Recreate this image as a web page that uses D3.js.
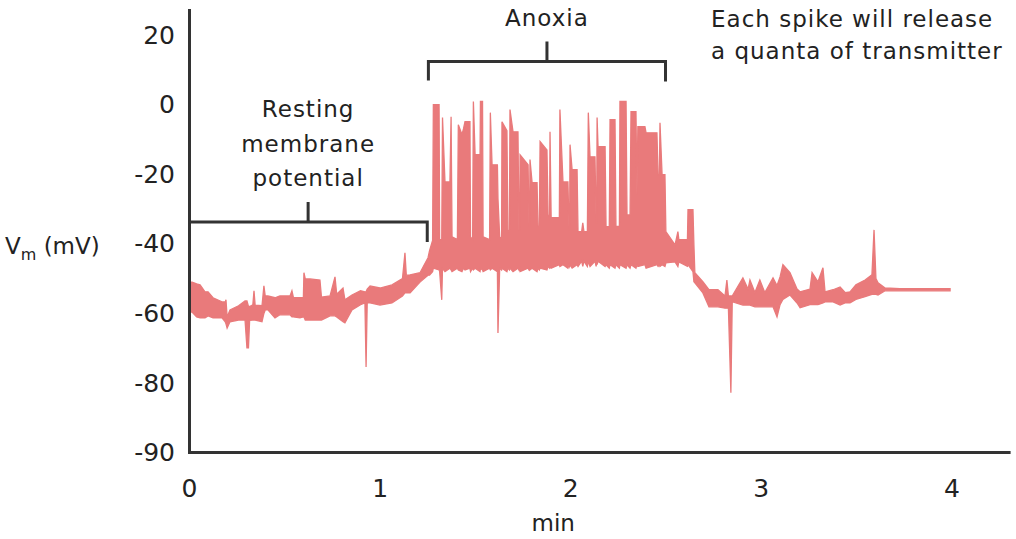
<!DOCTYPE html>
<html>
<head>
<meta charset="utf-8">
<script src="https://cdn.jsdelivr.net/npm/d3@7"></script>
<style>
  body { margin: 0; background: #fff; }
  #chart text { font-family: "DejaVu Sans", sans-serif; fill: #222; }
  #chart .note { letter-spacing: 1px; }
</style>
</head>
<body>
<div id="chart"></div>
<script>
// Membrane potential trace: [min, upper mV, lower mV]
const restTrace = [
  [0.000, -51.0, -59.6], [0.016, -51.0, -59.6], [0.040, -51.5, -61.0], [0.058, -51.8, -61.3],
  [0.084, -53.8, -61.3], [0.100, -53.8, -60.7], [0.126, -55.5, -61.3], [0.173, -56.7, -61.3],
  [0.190, -56.7, -62.4], [0.194, -56.1, -63.0], [0.200, -61.0, -64.2], [0.215, -59.0, -62.4],
  [0.260, -57.8, -61.9], [0.294, -56.4, -61.9], [0.304, -56.4, -69.9], [0.312, -58.0, -69.9],
  [0.318, -58.0, -62.0], [0.335, -57.5, -61.9], [0.341, -53.5, -61.9], [0.347, -57.6, -61.9],
  [0.383, -57.8, -62.4], [0.393, -52.1, -60.0], [0.400, -55.0, -59.0], [0.414, -55.0, -59.0],
  [0.451, -55.5, -61.3], [0.477, -55.0, -60.4], [0.530, -55.0, -60.4], [0.540, -53.5, -61.0],
  [0.548, -55.5, -61.0], [0.582, -55.5, -61.3], [0.600, -55.5, -61.0], [0.603, -48.3, -61.0],
  [0.610, -50.1, -61.9], [0.635, -50.1, -61.9], [0.687, -50.4, -61.9], [0.695, -55.3, -61.9],
  [0.740, -55.0, -60.7], [0.766, -49.5, -60.7], [0.775, -54.5, -61.0], [0.808, -52.7, -62.4],
  [0.818, -56.1, -62.7], [0.855, -54.7, -59.0], [0.900, -53.5, -57.5], [0.923, -53.8, -57.0],
  [0.929, -53.8, -75.4], [0.935, -53.0, -57.0], [0.950, -52.1, -57.0], [1.002, -52.7, -57.6],
  [1.065, -51.8, -57.0], [1.120, -50.0, -55.0], [1.133, -42.6, -54.1], [1.140, -49.0, -54.1],
  [1.160, -48.9, -54.1], [1.212, -48.3, -51.0], [1.254, -44.0, -49.0]
];

const anoxiaTrace = [
  [1.262, -42.0, -49.0], [1.278, -39.0, -48.0], [1.282, 0.0, -47.0], [1.312, 0.0, -47.5],
  [1.315, -38.8, -48.0], [1.326, -38.8, -56.1], [1.330, -3.7, -47.0], [1.343, -22.2, -48.0],
  [1.369, -22.2, -47.0], [1.375, -3.5, -47.5], [1.380, -38.0, -48.0], [1.408, -38.8, -47.0],
  [1.413, -5.8, -47.5], [1.432, -8.6, -48.0], [1.440, -7.0, -47.0], [1.448, -4.9, -47.5],
  [1.474, -4.9, -47.0], [1.477, -38.0, -48.0], [1.488, -38.8, -47.0], [1.492, 0.9, -47.5],
  [1.501, -14.4, -47.0], [1.527, -14.4, -48.0], [1.529, 0.9, -47.0], [1.540, 0.9, -47.5],
  [1.543, -38.0, -48.0], [1.577, -38.8, -47.0], [1.581, -2.3, -47.5], [1.590, -17.3, -47.0],
  [1.618, -17.3, -48.0], [1.621, -27.0, -65.6], [1.630, -38.0, -47.0], [1.640, -38.5, -47.5],
  [1.642, -4.9, -47.0], [1.668, -7.5, -48.0], [1.673, -36.0, -47.0], [1.681, -36.5, -47.5],
  [1.684, -1.4, -47.0], [1.700, -7.8, -48.0], [1.726, -7.8, -47.0], [1.731, -36.0, -47.5],
  [1.735, -36.0, -47.0], [1.737, -14.4, -48.0], [1.779, -17.3, -47.0], [1.784, -35.0, -47.5],
  [1.787, -35.0, -47.0], [1.789, -15.8, -47.5], [1.800, -22.4, -47.0], [1.826, -22.4, -48.0],
  [1.831, -35.0, -47.0], [1.838, -35.0, -47.5], [1.842, -10.6, -47.0], [1.878, -13.0, -47.5],
  [1.884, -31.7, -46.5], [1.892, -32.0, -47.0], [1.894, -7.8, -46.5], [1.900, -32.5, -47.0],
  [1.943, -32.5, -46.0], [1.946, -1.4, -46.5], [1.962, -22.2, -46.0], [1.988, -22.2, -47.0],
  [1.994, -36.0, -46.0], [1.997, -36.0, -46.5], [1.999, -11.5, -46.0], [2.010, -18.7, -47.0],
  [2.036, -18.7, -46.0], [2.041, -36.5, -46.5], [2.060, -36.5, -45.0], [2.066, -34.0, -46.5],
  [2.072, -36.5, -45.0], [2.090, -36.5, -46.5], [2.095, -2.3, -45.0], [2.104, -15.0, -46.5],
  [2.130, -15.0, -45.0], [2.136, -34.0, -46.5], [2.139, -34.0, -45.0], [2.141, -3.7, -46.0],
  [2.146, -12.1, -45.0], [2.183, -12.1, -46.5], [2.188, -35.1, -46.0], [2.205, -35.1, -47.0],
  [2.209, -4.3, -46.0], [2.235, -4.3, -47.0], [2.240, -35.0, -46.0], [2.258, -35.0, -47.0],
  [2.261, 0.9, -46.0], [2.293, 0.9, -47.0], [2.298, -31.7, -46.0], [2.314, -31.7, -47.0],
  [2.319, -2.0, -46.0], [2.345, -2.0, -47.0], [2.350, -25.9, -46.0], [2.355, -6.3, -46.5],
  [2.392, -6.3, -46.0], [2.398, -8.1, -47.0], [2.455, -8.1, -46.0], [2.461, -20.1, -46.5],
  [2.468, -20.1, -46.0], [2.471, -5.2, -46.5], [2.482, -20.1, -46.0], [2.497, -20.1, -46.5],
  [2.502, -36.5, -45.5], [2.550, -40.3, -45.2], [2.565, -36.5, -46.5], [2.570, -38.8, -45.2],
  [2.615, -38.8, -46.5], [2.618, -30.2, -46.0], [2.644, -30.2, -48.0], [2.649, -40.3, -50.9]
];

const recoveryTrace = [
  [2.654, -48.3, -51.2], [2.696, -50.9, -54.1], [2.728, -53.2, -58.1], [2.775, -53.2, -58.1],
  [2.812, -55.0, -58.5], [2.822, -50.4, -58.5], [2.830, -55.0, -58.5], [2.843, -55.0, -81.4],
  [2.850, -55.0, -57.0], [2.853, -54.7, -56.7], [2.906, -49.8, -57.6], [2.933, -53.0, -57.6],
  [2.943, -50.4, -57.6], [2.969, -54.0, -58.1], [2.995, -50.4, -58.1], [3.021, -54.0, -58.1],
  [3.064, -49.8, -58.1], [3.085, -52.0, -61.0], [3.101, -49.5, -57.5], [3.116, -46.0, -56.0],
  [3.153, -48.3, -54.7], [3.190, -53.0, -57.0], [3.206, -53.8, -58.4], [3.258, -53.0, -57.5],
  [3.269, -48.3, -57.5], [3.300, -50.9, -57.5], [3.326, -46.9, -57.0], [3.337, -53.8, -56.7],
  [3.379, -53.2, -56.7], [3.416, -52.4, -57.6], [3.442, -54.0, -57.0], [3.468, -53.8, -57.0],
  [3.499, -51.8, -56.0], [3.547, -50.4, -55.2], [3.583, -48.9, -54.5], [3.594, -36.0, -54.5],
  [3.604, -50.0, -54.5], [3.615, -51.2, -54.7], [3.652, -52.7, -53.5], [3.730, -52.9, -53.5],
  [3.993, -52.9, -53.5]
];

const xTicks = [0, 1, 2, 3, 4];
const yTicks = [-90, -80, -60, -40, -20, 0, 20];

// brackets: [start min, end min, level mV]
const restBracket = [0, 1.25, -33.7];
const anoxiaBracket = [1.256, 2.5, 12.4];

const width = 1016, height = 539;

const svg = d3.select("#chart").append("svg")
    .attr("width", width)
    .attr("height", height);

const x = d3.scaleLinear().domain([0, 4.3]).range([189, 1008.6]);
// the axis jumps from -80 to -90 in a shorter step
const y = d3.scaleLinear().domain([-90, -80, 27.2]).range([452, 383, 10]);

const trace = restTrace.concat(anoxiaTrace, recoveryTrace);

const area = d3.area()
    .x(d => x(d[0]))
    .y0(d => y(d[2]))
    .y1(d => y(d[1]));

svg.append("path")
    .datum(trace)
    .attr("d", area)
    .attr("fill", "#e97a7b")
    .attr("stroke", "#e97a7b")
    .attr("stroke-width", 1.3)
    .attr("stroke-linejoin", "miter");

// Axes
const yAxis = svg.append("g")
    .attr("transform", `translate(${x(0)},0)`)
    .call(d3.axisLeft(y).tickValues(yTicks).tickSize(0).tickPadding(14).tickFormat(d => String(d)));

const xAxis = svg.append("g")
    .attr("transform", `translate(0,${y(-90)})`)
    .call(d3.axisBottom(x).tickValues(xTicks).tickSize(0).tickPadding(27).tickFormat(d => String(d)));

[yAxis, xAxis].forEach(g => {
    g.select(".domain").attr("stroke", "#333").attr("stroke-width", 3).attr("stroke-linecap", "square");
    g.selectAll("text").style("font-size", "25px").attr("fill", "#222");
});

// Axis titles
svg.append("text")
    .attr("x", x(1.911))
    .attr("y", 531)
    .attr("text-anchor", "middle")
    .style("font-size", "23px")
    .text("min");

const yTitle = svg.append("text")
    .attr("x", 5)
    .attr("y", 254)
    .style("font-size", "23px");
yTitle.append("tspan").text("V");
yTitle.append("tspan").attr("dy", 6).style("font-size", "16px").text("m");
yTitle.append("tspan").attr("dy", -6).text(" (mV)");

// Brackets
function bracket(b, leftLeg, rightLeg) {
    const x0 = x(b[0]), x1 = x(b[1]), yy = y(b[2]);
    const xm = (x0 + x1) / 2;
    let d = leftLeg ? `M${x0},${yy + 19}V${yy}` : `M${x0},${yy}`;
    d += `H${x1}`;
    if (rightLeg) d += `V${yy + 20}`;
    d += `M${xm},${yy}V${yy - 20}`;
    svg.append("path")
        .attr("d", d)
        .attr("fill", "none")
        .attr("stroke", "#333")
        .attr("stroke-width", 3);
    return xm;
}

const restMid = bracket(restBracket, false, true);
const anoxMid = bracket(anoxiaBracket, true, true);

svg.append("text")
    .attr("class", "note")
    .attr("x", anoxMid)
    .attr("y", 26)
    .attr("text-anchor", "middle")
    .style("font-size", "23px")
    .text("Anoxia");

const restLabel = svg.append("text")
    .attr("class", "note")
    .attr("x", restMid)
    .attr("y", 117)
    .attr("text-anchor", "middle")
    .style("font-size", "23px");
["Resting", "membrane", "potential"].forEach((s, i) => {
    restLabel.append("tspan").attr("x", restMid).attr("dy", i ? 34.5 : 0).text(s);
});

const note = svg.append("text")
    .attr("class", "note")
    .attr("x", 711)
    .attr("y", 27)
    .style("font-size", "23px");
["Each spike will release", "a quanta of transmitter"].forEach((s, i) => {
    note.append("tspan").attr("x", 711).attr("dy", i ? 32 : 0).text(s);
});
</script>
</body>
</html>
